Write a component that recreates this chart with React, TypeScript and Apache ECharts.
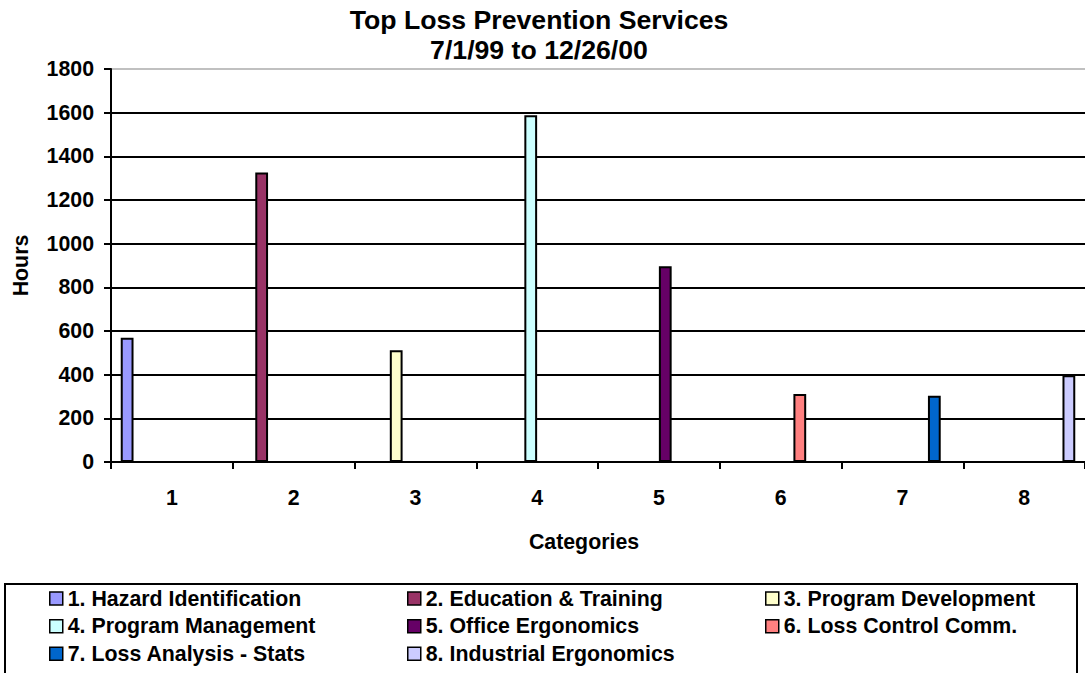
import React, { useEffect, useRef } from "react";
import * as echarts from "echarts";

const categories = ["1", "2", "3", "4", "5", "6", "7", "8"];
const seriesNames = [
  "1. Hazard Identification",
  "2. Education & Training",
  "3. Program Development",
  "4. Program Management",
  "5. Office Ergonomics",
  "6. Loss Control Comm.",
  "7. Loss Analysis - Stats",
  "8. Industrial Ergonomics",
];
const hours = [569, 1326, 512, 1588, 897, 311, 304, 397];
const colors = ["#9999FF", "#993366", "#FFFFCC", "#CCFFFF", "#660066", "#FF8080", "#0066CC", "#CCCCFF"];
const yTicks = [0, 200, 400, 600, 800, 1000, 1200, 1400, 1600, 1800];
const legendColumns = [
  [0, 3, 6],
  [1, 4, 7],
  [2, 5],
];

const FONT = '"Liberation Sans", Arial, sans-serif';

export default function App() {
  const ref = useRef<HTMLDivElement>(null);
  useEffect(() => {
    if (!ref.current) return;
    const chart = echarts.init(ref.current, undefined, { renderer: "svg" });
    const legendLeft = [49, 407, 765];
    chart.setOption({
      animation: false,
      backgroundColor: "#ffffff",
      textStyle: { fontFamily: FONT },
      grid: { left: 111, top: 69, width: 978, height: 393, containLabel: false },
      xAxis: {
        type: "category",
        data: categories,
        axisLine: { show: true, lineStyle: { color: "#000", width: 2 } },
        axisTick: { show: true, length: 7, interval: 0, lineStyle: { color: "#000", width: 2 } },
        axisLabel: { margin: 25, color: "#000", fontSize: 21.33, fontWeight: "bold", fontFamily: FONT },
        splitLine: { show: false },
      },
      yAxis: {
        type: "value",
        min: yTicks[0],
        max: yTicks[yTicks.length - 1],
        interval: 200,
        name: "Hours",
        nameLocation: "middle",
        nameRotate: 90,
        nameGap: 80,
        nameTextStyle: { color: "#000", fontSize: 21.33, fontWeight: "bold", fontFamily: FONT },
        axisLine: { show: true, lineStyle: { color: "#000", width: 2 } },
        axisTick: { show: true, length: 7, lineStyle: { color: "#000", width: 2 } },
        axisLabel: {
          margin: 17,
          color: "#000",
          fontSize: 21.33,
          fontWeight: "bold",
          fontFamily: FONT,
          formatter: (v: number) => String(v),
        },
        splitLine: {
          show: true,
          lineStyle: {
            color: yTicks.map((v, i) => (i === yTicks.length - 1 ? "#c0c0c0" : "#000")),
            width: 2,
          },
        },
      },
      legend: legendColumns.map((col, ci) => ({
        orient: "vertical",
        left: legendLeft[ci],
        top: 588,
        padding: 0,
        itemGap: 6.67,
        itemWidth: 13,
        itemHeight: 13,
        itemStyle: { borderColor: "#000", borderWidth: 1.5 },
        icon: "rect",
        selectedMode: false,
        data: col.map((i) => seriesNames[i]),
        textStyle: { color: "#000", fontSize: 21.33, fontWeight: "bold", fontFamily: FONT },
      })),
      graphic: [
        {
          type: "text",
          x: 539,
          y: 20,
          style: {
            text: "Top Loss Prevention Services",
            align: "center",
            verticalAlign: "middle",
            fontSize: 26.67,
            fontWeight: "bold",
            fontFamily: FONT,
            fill: "#000",
          },
        },
        {
          type: "text",
          x: 539,
          y: 50,
          style: {
            text: "7/1/99 to 12/26/00",
            align: "center",
            verticalAlign: "middle",
            fontSize: 26.67,
            fontWeight: "bold",
            fontFamily: FONT,
            fill: "#000",
          },
        },
        {
          type: "text",
          x: 584,
          y: 542,
          style: {
            text: "Categories",
            align: "center",
            verticalAlign: "middle",
            fontSize: 21.33,
            fontWeight: "bold",
            fontFamily: FONT,
            fill: "#000",
          },
        },
        {
          type: "rect",
          shape: { x: 5, y: 584, width: 1072, height: 100 },
          style: { fill: "none", stroke: "#000", lineWidth: 2 },
          silent: true,
        },
      ],
      series: seriesNames.map((name, i) => ({
        name,
        type: "bar",
        barGap: "0%",
        barCategoryGap: "16%",
        data: categories.map((_, j) => (j === i ? hours[i] : null)),
        itemStyle: { color: colors[i], borderColor: "#000", borderWidth: 2 },
      })),
    });
    return () => chart.dispose();
  }, []);
  return (
    <div
      ref={ref}
      style={{ position: "fixed", left: 0, top: 0, width: 1085, height: 673, background: "#fff" }}
    />
  );
}
